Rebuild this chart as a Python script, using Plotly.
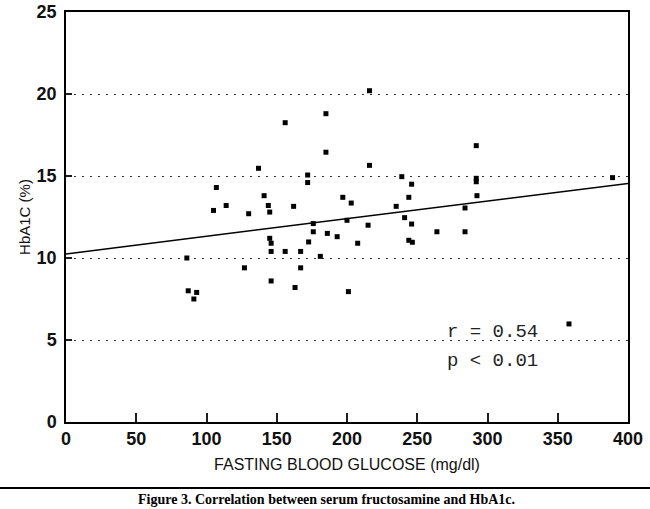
import plotly.graph_objects as go

# 空腹血糖 (mg/dl) 와 HbA1C (%) - 그림에서 읽은 값
fbg = [137, 107, 141, 114, 144, 105, 130, 145, 145, 146, 146, 86, 127, 146, 87, 93, 91,
       216, 185, 156, 185, 292, 216, 172, 172, 239, 246, 292, 292, 244, 292.5, 197, 203,
       162, 235, 284, 241, 200, 176, 246, 215, 176, 186, 193, 264, 284, 172.7, 207.6,
       244, 246.5, 156, 167, 181, 167, 163, 201, 389, 358]
hba1c = [15.47, 14.3, 13.8, 13.2, 13.2, 12.9, 12.7, 12.8, 11.2, 10.9, 10.4, 10.0, 9.4, 8.6,
         8.0, 7.9, 7.5,
         20.2, 18.8, 18.25, 16.45, 16.85, 15.65, 15.06, 14.6, 14.96, 14.5, 14.86, 14.65,
         13.7, 13.8, 13.7, 13.35, 13.15, 13.15, 13.05, 12.46, 12.3, 12.1, 12.07, 12.0,
         11.6, 11.5, 11.3, 11.6, 11.6, 10.98, 10.9, 11.08, 10.96, 10.4, 10.4, 10.1, 9.4,
         8.2, 7.95, 14.9, 5.98]

# 회귀선 양 끝점
fit_x = [0, 400]
fit_y = [10.25, 14.55]

x_ticks = [0, 50, 100, 150, 200, 250, 300, 350, 400]
y_ticks = [0, 5, 10, 15, 20, 25]

fig = go.Figure()
fig.add_trace(go.Scatter(x=fbg, y=hba1c, mode='markers',
                         marker=dict(symbol='square', size=5, color='black'),
                         showlegend=False))
fig.add_trace(go.Scatter(x=fit_x, y=fit_y, mode='lines',
                         line=dict(color='black', width=1.5),
                         showlegend=False))

tick_font = dict(family='Liberation Sans, Arial', size=18, color='#111', weight='bold')

fig.update_layout(
    width=650, height=509,
    margin=dict(l=66, r=22, t=12, b=87),
    paper_bgcolor='white', plot_bgcolor='white',
    xaxis=dict(range=[0, 400], tickvals=x_ticks, showgrid=False, zeroline=False,
               showline=True, linecolor='black', linewidth=1.5, mirror=True,
               ticks='inside', ticklen=9, tickcolor='rgb(30,30,30)', tickwidth=2,
               tickfont=tick_font, automargin=False,
               title=dict(text='FASTING BLOOD GLUCOSE (mg/dl)', standoff=10,
                          font=dict(family='Liberation Sans, Arial', size=16, color='#111'))),
    yaxis=dict(range=[0, 25], tickvals=y_ticks, zeroline=False,
               showgrid=True, gridcolor='#333', gridwidth=1, griddash='2px,6px',
               showline=True, linecolor='black', linewidth=1.5, mirror=True,
               ticks='inside', ticklen=6, tickcolor='rgb(30,30,30)', tickwidth=2,
               tickfont=tick_font, ticklabelstandoff=4, automargin=False,
               title=dict(text='HbA1C (%)', standoff=2,
                          font=dict(family='Liberation Sans, Arial', size=15, color='#111'))),
)

# 상관계수 표시
fig.add_annotation(x=270, y=5.5, text='r = 0.54', showarrow=False, xanchor='left',
                   font=dict(family='Liberation Mono, Courier New', size=19, color='#222'))
fig.add_annotation(x=270, y=3.7, text='p < 0.01', showarrow=False, xanchor='left',
                   font=dict(family='Liberation Mono, Courier New', size=19, color='#222'))

# 그림 하단 구분선과 캡션
fig.add_shape(type='line', xref='paper', yref='paper', x0=-0.12, x1=1.05, y0=-0.161, y1=-0.161,
              line=dict(color='black', width=2))
fig.add_annotation(xref='paper', yref='paper', x=0.463, y=-0.19, yanchor='middle',
                   text='<b>Figure 3. Correlation between serum fructosamine and HbA1c.</b>',
                   showarrow=False,
                   font=dict(family='Liberation Serif, Times New Roman', size=14, color='black'))

# 페이지 기본 여백 제거, 툴바 숨김
fig.write_html("out.html", config={'displayModeBar': False},
               post_script="document.body.style.margin='0';")
